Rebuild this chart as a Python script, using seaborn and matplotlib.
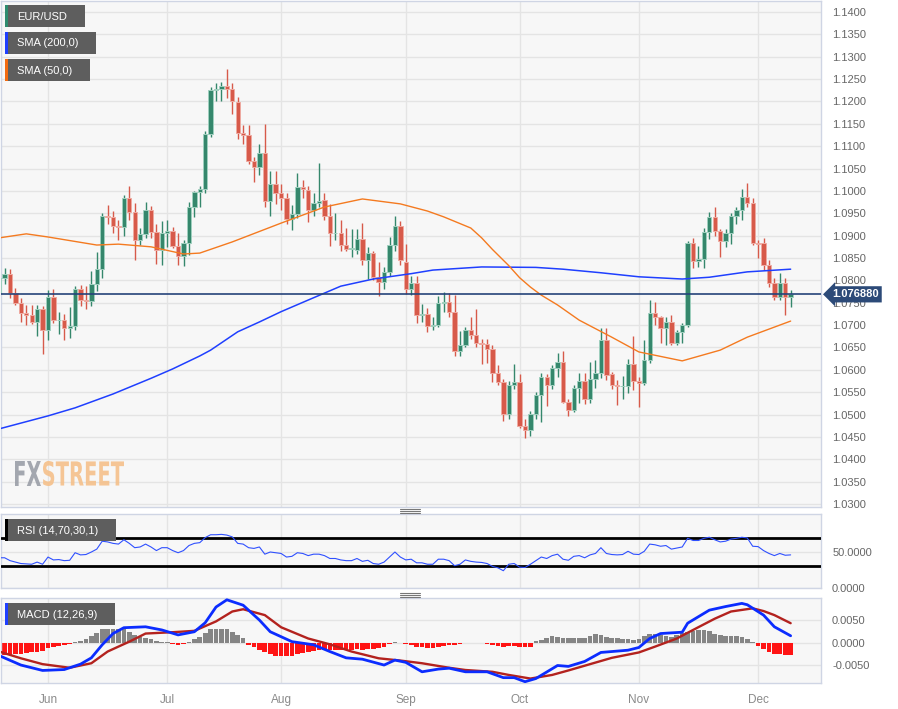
import numpy as np
import pandas as pd
import matplotlib
matplotlib.use("Agg")
import matplotlib.pyplot as plt
import seaborn as sns
from matplotlib.patches import Rectangle, PathPatch
from matplotlib.textpath import TextPath
from matplotlib.font_manager import FontProperties
from matplotlib.transforms import Affine2D, blended_transform_factory
from matplotlib.ticker import FormatStrFormatter

# ---------------- data ----------------
dates = pd.bdate_range("2023-05-19", "2023-12-11")

opens = [
    1.0772, 1.0806, 1.0815, 1.0771, 1.0750, 1.0726, 1.0722, 1.0707, 1.0736,
    1.0690, 1.0763, 1.0712, 1.0712, 1.0694, 1.0697, 1.0781, 1.0755, 1.0753, 1.0792,
    1.0826, 1.0943, 1.0941, 1.0922, 1.0920, 1.0985, 1.0953, 1.0891, 1.0903, 1.0957,
    1.0909, 1.0867, 1.0907, 1.0910, 1.0877, 1.0854, 1.0884, 1.0964, 1.0997, 1.1005,
    1.1127, 1.1225, 1.1227, 1.1234, 1.1227, 1.1199, 1.1130, 1.1126, 1.1066, 1.1053,
    1.1085, 1.0978, 1.1016, 1.0995, 1.0985, 1.0938, 1.0948, 1.1008, 1.1002, 1.0957,
    1.0973, 1.0979, 1.0945, 1.0905, 1.0906, 1.0878, 1.0871, 1.0869, 1.0893, 1.0845,
    1.0862, 1.0808, 1.0796, 1.0818, 1.0878, 1.0922, 1.0842, 1.0780, 1.0793, 1.0722,
    1.0725, 1.0697, 1.0700, 1.0749, 1.0751, 1.0729, 1.0641, 1.0656, 1.0689, 1.0678,
    1.0660, 1.0658, 1.0647, 1.0592, 1.0572, 1.0501, 1.0565, 1.0572, 1.0475, 1.0465,
    1.0501, 1.0544, 1.0585, 1.0566, 1.0603, 1.0617, 1.0528, 1.0510, 1.0559, 1.0576,
    1.0535, 1.0580, 1.0592, 1.0667, 1.0590, 1.0566, 1.0563, 1.0564, 1.0614, 1.0575,
    1.0571, 1.0621, 1.0728, 1.0717, 1.0693, 1.0707, 1.0661, 1.0685, 1.0700, 1.0883,
    1.0844, 1.0847, 1.0909, 1.0942, 1.0910, 1.0888, 1.0905, 1.0944, 1.0957, 1.0987,
    1.0972, 1.0884, 1.0883, 1.0834, 1.0795, 1.0762, 1.0795, 1.0763,
]
highs = [
    1.0830, 1.0828, 1.0825, 1.0782, 1.0760, 1.0746, 1.0745, 1.0746, 1.0742,
    1.0778, 1.0780, 1.0730, 1.0725, 1.0740, 1.0787, 1.0790, 1.0787, 1.0822, 1.0863,
    1.0950, 1.0968, 1.0955, 1.0935, 1.0990, 1.1012, 1.0973, 1.0917, 1.0975, 1.0966,
    1.0925, 1.0932, 1.0935, 1.0919, 1.0905, 1.0890, 1.0975, 1.1000, 1.1012, 1.1135,
    1.1233, 1.1242, 1.1244, 1.1272, 1.1242, 1.1210, 1.1147, 1.1147, 1.1075, 1.1106,
    1.1149, 1.1045, 1.1045, 1.1016, 1.0995, 1.0968, 1.1039, 1.1025, 1.1010, 1.0995,
    1.1062, 1.0995, 1.0970, 1.0950, 1.0935, 1.0917, 1.0914, 1.0914, 1.0929, 1.0875,
    1.0866, 1.0840, 1.0830, 1.0898, 1.0945, 1.0933, 1.0882, 1.0809, 1.0810, 1.0747,
    1.0738, 1.0718, 1.0766, 1.0773, 1.0771, 1.0768, 1.0687, 1.0696, 1.0718, 1.0736,
    1.0670, 1.0670, 1.0655, 1.0610, 1.0580, 1.0574, 1.0614, 1.0590, 1.0490, 1.0507,
    1.0550, 1.0592, 1.0590, 1.0610, 1.0637, 1.0641, 1.0535, 1.0565, 1.0592, 1.0592,
    1.0617, 1.0622, 1.0694, 1.0694, 1.0595, 1.0578, 1.0586, 1.0625, 1.0675, 1.0585,
    1.0667, 1.0755, 1.0751, 1.0721, 1.0719, 1.0722, 1.0690, 1.0705, 1.0888, 1.0895,
    1.0876, 1.0918, 1.0953, 1.0965, 1.0915, 1.0915, 1.0950, 1.0965, 1.1005, 1.1017,
    1.0985, 1.0890, 1.0895, 1.0845, 1.0805, 1.0817, 1.0805, 1.0778,
]
lows = [
    1.0760, 1.0792, 1.0760, 1.0745, 1.0708, 1.0700, 1.0703, 1.0675, 1.0635,
    1.0666, 1.0705, 1.0680, 1.0667, 1.0672, 1.0690, 1.0742, 1.0736, 1.0742, 1.0776,
    1.0805, 1.0925, 1.0905, 1.0890, 1.0900, 1.0935, 1.0845, 1.0880, 1.0895, 1.0895,
    1.0836, 1.0835, 1.0875, 1.0872, 1.0835, 1.0833, 1.0857, 1.0941, 1.0965, 1.0995,
    1.1120, 1.1200, 1.1200, 1.1207, 1.1172, 1.1117, 1.1106, 1.1060, 1.1021, 1.1036,
    1.0965, 1.0944, 1.0970, 1.0958, 1.0927, 1.0912, 1.0940, 1.0985, 1.0930, 1.0945,
    1.0965, 1.0935, 1.0877, 1.0891, 1.0865, 1.0865, 1.0853, 1.0860, 1.0835, 1.0802,
    1.0800, 1.0765, 1.0781, 1.0810, 1.0865, 1.0835, 1.0770, 1.0768, 1.0705, 1.0707,
    1.0685, 1.0688, 1.0695, 1.0729, 1.0718, 1.0632, 1.0632, 1.0650, 1.0670, 1.0651,
    1.0614, 1.0615, 1.0572, 1.0565, 1.0486, 1.0490, 1.0557, 1.0470, 1.0448, 1.0451,
    1.0490, 1.0483, 1.0520, 1.0557, 1.0585, 1.0525, 1.0496, 1.0505, 1.0525, 1.0524,
    1.0526, 1.0560, 1.0582, 1.0578, 1.0557, 1.0521, 1.0535, 1.0549, 1.0556, 1.0516,
    1.0566, 1.0615, 1.0700, 1.0661, 1.0656, 1.0656, 1.0655, 1.0661, 1.0695, 1.0828,
    1.0830, 1.0828, 1.0893, 1.0900, 1.0852, 1.0875, 1.0882, 1.0925, 1.0935, 1.0965,
    1.0880, 1.0850, 1.0823, 1.0785, 1.0757, 1.0755, 1.0723, 1.0741,
]
closes = [
    1.0806, 1.0815, 1.0771, 1.0750, 1.0726, 1.0722, 1.0707, 1.0736, 1.0690,
    1.0763, 1.0712, 1.0712, 1.0694, 1.0697, 1.0781, 1.0755, 1.0753, 1.0792, 1.0826,
    1.0943, 1.0941, 1.0922, 1.0920, 1.0985, 1.0953, 1.0891, 1.0903, 1.0957, 1.0909,
    1.0867, 1.0907, 1.0910, 1.0877, 1.0854, 1.0884, 1.0964, 1.0997, 1.1005, 1.1127,
    1.1225, 1.1227, 1.1234, 1.1227, 1.1201, 1.1130, 1.1126, 1.1066, 1.1053, 1.1085,
    1.0978, 1.1016, 1.0995, 1.0985, 1.0938, 1.0948, 1.1008, 1.1005, 1.0957, 1.0973,
    1.0978, 1.0945, 1.0905, 1.0906, 1.0878, 1.0871, 1.0871, 1.0893, 1.0845, 1.0862,
    1.0808, 1.0796, 1.0818, 1.0878, 1.0922, 1.0845, 1.0780, 1.0793, 1.0722, 1.0725,
    1.0697, 1.0700, 1.0749, 1.0751, 1.0729, 1.0642, 1.0656, 1.0689, 1.0678, 1.0660,
    1.0658, 1.0647, 1.0592, 1.0572, 1.0501, 1.0565, 1.0572, 1.0475, 1.0465, 1.0501,
    1.0544, 1.0585, 1.0566, 1.0603, 1.0617, 1.0528, 1.0510, 1.0559, 1.0576, 1.0535,
    1.0580, 1.0592, 1.0667, 1.0588, 1.0566, 1.0563, 1.0564, 1.0614, 1.0575, 1.0571,
    1.0621, 1.0728, 1.0717, 1.0693, 1.0707, 1.0661, 1.0685, 1.0700, 1.0883, 1.0844,
    1.0847, 1.0909, 1.0942, 1.0910, 1.0888, 1.0905, 1.0944, 1.0957, 1.0987, 1.0972,
    1.0884, 1.0881, 1.0834, 1.0795, 1.0762, 1.0795, 1.0763, 1.0769,
]
last_price = 1.076880

sma200_dates = ["2023-05-19", "2023-06-01", "2023-06-08", "2023-06-19", "2023-06-28",
                "2023-07-04", "2023-07-11", "2023-07-13", "2023-07-20", "2023-07-26",
                "2023-08-01", "2023-08-08", "2023-08-16", "2023-08-24", "2023-09-04",
                "2023-09-08", "2023-09-21", "2023-10-05", "2023-10-12", "2023-10-23",
                "2023-11-01", "2023-11-13", "2023-11-20", "2023-11-29", "2023-12-11"]
sma200_vals = [1.0468, 1.0497, 1.0515, 1.0546, 1.0581,
               1.0602, 1.0631, 1.0644, 1.0685, 1.0707,
               1.0730, 1.0756, 1.0787, 1.0803, 1.0815,
               1.0823, 1.0830, 1.0829, 1.0825, 1.0817,
               1.0808, 1.0803, 1.0807, 1.0819, 1.0825]

sma50_dates = ["2023-05-19", "2023-05-26", "2023-06-01", "2023-06-14", "2023-06-20",
               "2023-06-28", "2023-07-06", "2023-07-11", "2023-07-19", "2023-08-01",
               "2023-08-11", "2023-08-22", "2023-08-31", "2023-09-07", "2023-09-12",
               "2023-09-19", "2023-09-21", "2023-09-25", "2023-09-28", "2023-10-02",
               "2023-10-04", "2023-10-06", "2023-10-11", "2023-10-17", "2023-10-25",
               "2023-11-01", "2023-11-13", "2023-11-22", "2023-11-29", "2023-12-11"]
sma50_vals = [1.0895, 1.0904, 1.0897, 1.0879, 1.0881,
              1.0875, 1.0859, 1.0861, 1.0886, 1.0928,
              1.0964, 1.0982, 1.0971, 1.0955, 1.0942,
              1.0917, 1.0895, 1.0869, 1.0833, 1.0806,
              1.0785, 1.0767, 1.0745, 1.0711, 1.0673,
              1.0640, 1.0620, 1.0644, 1.0673, 1.0709]

rsi = [
    42, 42, 38, 36, 34, 33.5, 33, 36, 33,
    43, 39, 39.5, 38, 38.5, 49, 46, 46.5, 50, 54,
    65, 64, 62, 61, 67, 62, 56, 57, 61, 57,
    52, 56, 56, 52, 49, 52, 59, 62, 63, 70,
    74, 74, 74.5, 73.5, 71, 62, 61, 56, 55, 57,
    47, 50, 49, 48, 43, 44, 49, 48, 45, 47,
    47, 45, 41, 41, 39, 38, 38, 41, 37, 38.5,
    34, 33, 36, 43, 50, 43, 39, 40, 35, 35,
    33, 33, 40, 40, 38, 31, 33, 39, 37, 36,
    35.5, 34, 30, 28, 24, 33, 34, 29, 28.5, 33,
    38, 43, 41, 45, 47, 40, 38.5, 44, 45, 42,
    46, 48, 56, 48, 46.5, 46, 46.5, 51, 47, 46.5,
    51, 61, 60, 58, 59, 54, 55.5, 57, 69, 66,
    66, 69, 70.5, 67, 64, 65, 68, 69, 70.5, 69.5,
    58, 57.5, 52, 48, 45, 48, 45.5, 46,
]
rsi_upper, rsi_lower = 70, 30

macd_hist = [
    -0.0027, -0.0027, -0.0026, -0.0025, -0.0024, -0.0022, -0.0021, -0.0019, -0.0017,
    -0.0012, -0.0010, -0.0007, -0.0005, -0.0003, 0.0003, 0.0005, 0.0008, 0.0015, 0.0022,
    0.0030, 0.0031, 0.0031, 0.0030, 0.0031, 0.0025, 0.0018, 0.0014, 0.0012, 0.0008,
    0.0005, 0.0003, 0.0002, -0.0002, -0.0004, -0.0003, 0.0003, 0.0008, 0.0014, 0.0022,
    0.0030, 0.0031, 0.0031, 0.0030, 0.0025, 0.0018, 0.0010, -0.0005, -0.0010, -0.0016,
    -0.0020, -0.0025, -0.0028, -0.0030, -0.0030, -0.0028, -0.0025, -0.0022, -0.0019, -0.0018,
    -0.0016, -0.0015, -0.0015, -0.0016, -0.0015, -0.0016, -0.0015, -0.0014, -0.0015, -0.0013,
    -0.0014, -0.0012, -0.0008, -0.0003, 0.0002, 0.0001, -0.0002, -0.0004, -0.0008, -0.0010,
    -0.0012, -0.0012, -0.0008, -0.0006, -0.0005, -0.0004, -0.0002, -0.0001, -0.0001, -0.0001,
    -0.0001, -0.0002, -0.0004, -0.0007, -0.0009, -0.0007, -0.0007, -0.0009, -0.0010, -0.0008,
    0.0004, 0.0007, 0.0012, 0.0016, 0.0014, 0.0010, 0.0010, 0.0010, 0.0010, 0.0012,
    0.0015, 0.0019, 0.0017, 0.0013, 0.0010, 0.0010, 0.0009, 0.0008, 0.0006, 0.0008,
    0.0016, 0.0019, 0.0019, 0.0017, 0.0016, 0.0014, 0.0017, 0.0023, 0.0025, 0.0026,
    0.0028, 0.0029, 0.0026, 0.0020, 0.0018, 0.0016, 0.0016, 0.0015, 0.0014, 0.0008,
    0.0002, -0.0007, -0.0013, -0.0019, -0.0024, -0.0025, -0.0026, -0.0026,
]

macd_dates = ["2023-05-19", "2023-05-25", "2023-05-31", "2023-06-06", "2023-06-09",
              "2023-06-13", "2023-06-15", "2023-06-19", "2023-06-21", "2023-06-27",
              "2023-06-30", "2023-07-05", "2023-07-10", "2023-07-12", "2023-07-14",
              "2023-07-18", "2023-07-21", "2023-07-26", "2023-07-28", "2023-08-03",
              "2023-08-09", "2023-08-14", "2023-08-17", "2023-08-22", "2023-08-28",
              "2023-08-30", "2023-09-01", "2023-09-06", "2023-09-11", "2023-09-13",
              "2023-09-18", "2023-09-22", "2023-09-27", "2023-09-29", "2023-10-03",
              "2023-10-05", "2023-10-11", "2023-10-13", "2023-10-18", "2023-10-23",
              "2023-10-25", "2023-10-30", "2023-11-01", "2023-11-03", "2023-11-07",
              "2023-11-13", "2023-11-14", "2023-11-20", "2023-11-23", "2023-11-28",
              "2023-11-29", "2023-12-04", "2023-12-06", "2023-12-11"]
macd_vals = [-0.0028, -0.0049, -0.0061, -0.0059, -0.0047,
             -0.0033, -0.0004, 0.0021, 0.0034, 0.0036,
             0.0029, 0.0018, 0.0025, 0.0045, 0.0080,
             0.0096, 0.0084, 0.0051, 0.0025, 0.0003,
             -0.0004, -0.0019, -0.0033, -0.0036, -0.0049,
             -0.0038, -0.0043, -0.0064, -0.0058, -0.0056,
             -0.0064, -0.0064, -0.0077, -0.0077, -0.0086,
             -0.0079, -0.0050, -0.0052, -0.0041, -0.0021,
             -0.0019, -0.0016, -0.0010, 0.0010, 0.0021,
             0.0024, 0.0044, 0.0073, 0.0081, 0.0088,
             0.0085, 0.0062, 0.0036, 0.0016]

signal_dates = ["2023-05-19", "2023-05-25", "2023-05-31", "2023-06-07", "2023-06-13",
                "2023-06-16", "2023-06-22", "2023-06-27", "2023-07-04", "2023-07-10",
                "2023-07-14", "2023-07-19", "2023-07-21", "2023-07-27", "2023-08-01",
                "2023-08-08", "2023-08-14", "2023-08-18", "2023-08-25", "2023-08-31",
                "2023-09-06", "2023-09-13", "2023-09-18", "2023-09-25", "2023-09-28",
                "2023-10-04", "2023-10-10", "2023-10-13", "2023-10-19", "2023-10-25",
                "2023-11-01", "2023-11-06", "2023-11-10", "2023-11-15", "2023-11-21",
                "2023-11-24", "2023-11-30", "2023-12-04", "2023-12-06", "2023-12-11"]
signal_vals = [-0.0019, -0.0034, -0.0047, -0.0055, -0.0045,
               -0.0019, 0.0003, 0.0021, 0.0024, 0.0027,
               0.0048, 0.0070, 0.0075, 0.0062, 0.0035,
               0.0010, -0.0003, -0.0019, -0.0034, -0.0039,
               -0.0045, -0.0055, -0.0060, -0.0064, -0.0071,
               -0.0079, -0.0071, -0.0061, -0.0047, -0.0033,
               -0.0021, -0.0008, 0.0010, 0.0029, 0.0054,
               0.0070, 0.0077, 0.0071, 0.0062, 0.0044]

legend_labels = ["EUR/USD", "SMA (200,0)", "SMA (50,0)"]
rsi_label = "RSI (14,70,30,1)"
macd_label = "MACD (12,26,9)"

# ---------------- style ----------------
sns.set_theme(style="white")
plt.rcParams["font.family"] = ["Liberation Sans", "DejaVu Sans"]

W, H = 898, 709
BG = "#f7f7f7"
GRID = "#e4e4e4"
SPINE = "#cfd5e4"
TXT = "#666666"
UP, DN = "#35876c", "#d75a4a"
UPE, DNE = "#9fcfbe", "#eeaaa1"
BLUE = "#1f3fff"
ORANGE = "#f47a20"

fig = plt.figure(figsize=(W / 100, H / 100), dpi=100)
fig.patch.set_facecolor("white")


def rect(top, bottom, left=0.5, right=821.0):
    return [left / W, 1 - bottom / H, (right - left) / W, (bottom - top) / H]


ax = fig.add_axes(rect(1, 507))
ax_rsi = fig.add_axes(rect(514, 588))
ax_macd = fig.add_axes(rect(598, 683))

n = len(dates)
xi = np.arange(n)
date_index = {d.strftime("%Y-%m-%d"): i for i, d in enumerate(dates)}
month_idx = [int(np.where(dates.month == m)[0][0]) for m in range(6, 13)]
month_lbl = [dates[i].strftime("%b") for i in month_idx]

xl = (0.24, 151.6)
for a in (ax, ax_rsi, ax_macd):
    a.set_facecolor(BG)
    a.set_xlim(*xl)
    for s in a.spines.values():
        s.set_color(SPINE)
        s.set_linewidth(1)
    a.yaxis.tick_right()
    a.tick_params(axis="both", length=0, labelsize=8, colors=TXT, pad=8)
    a.set_xticks(month_idx)
    a.grid(True, color=GRID, linewidth=1)
    a.set_axisbelow(True)
ax.tick_params(labelbottom=False)
ax_rsi.tick_params(labelbottom=False)
ax_macd.set_xticklabels(month_lbl)
ax_macd.tick_params(axis="x", colors="#8a8a8a", labelsize=8.5, pad=8)

# ---------------- main (candles) ----------------
O = np.array(opens); Hh = np.array(highs); L = np.array(lows); C = np.array(closes)
up = C >= O
cols = np.where(up, UP, DN)
ecols = np.where(up, UPE, DNE)
ax.vlines(xi, L, Hh, colors=cols, linewidth=1, zorder=2)
mind = 0.00009
diff = np.abs(C - O)
body_h = np.maximum(diff, mind)
body_b = np.where(diff < mind, (O + C) / 2 - mind / 2, np.minimum(O, C))
ax.bar(xi, body_h, bottom=body_b, width=0.8, color=cols, edgecolor=ecols,
       linewidth=0.7, zorder=3)

sns.lineplot(x=[date_index[d] for d in sma200_dates], y=sma200_vals, ax=ax,
             color=BLUE, linewidth=1.1, zorder=4)
sns.lineplot(x=[date_index[d] for d in sma50_dates], y=sma50_vals, ax=ax,
             color=ORANGE, linewidth=1.0, zorder=4)

ax.axhline(last_price, color="#25437a", linewidth=1.2, zorder=5)
ax.set_ylim(1.02933, 1.14246)
ax.set_yticks(np.round(np.arange(1.030, 1.14001, 0.005), 4))
ax.yaxis.set_major_formatter(FormatStrFormatter("%.4f"))
ax.set_xlabel(""); ax.set_ylabel("")

trans = blended_transform_factory(ax.transAxes, ax.transData)
ax.annotate(f"{last_price:.6f}", xy=(1.0, last_price), xycoords=trans,
            xytext=(11, 0), textcoords="offset pixels", ha="left", va="center",
            color="white", fontsize=8, fontweight="bold",
            bbox=dict(boxstyle="larrow,pad=0.28", fc="#2c4a78", ec="none"),
            annotation_clip=False, zorder=20)

# ---------------- RSI ----------------
sns.lineplot(x=xi, y=rsi, ax=ax_rsi, color="#2f50ff", linewidth=0.8, zorder=4)
ax_rsi.axhline(rsi_upper, color="black", linewidth=2, zorder=3)
ax_rsi.axhline(rsi_lower, color="black", linewidth=2, zorder=3)
ax_rsi.set_ylim(0, 102.8)
ax_rsi.set_yticks([0, 50])
ax_rsi.yaxis.set_major_formatter(FormatStrFormatter("%.4f"))
ax_rsi.set_xlabel(""); ax_rsi.set_ylabel("")

# ---------------- MACD ----------------
hist = np.array(macd_hist)
ax_macd.bar(xi, hist, width=0.86, color=np.where(hist >= 0, "#858585", "#ff1414"),
            linewidth=0, zorder=2)
sns.lineplot(x=[date_index[d] for d in signal_dates], y=signal_vals, ax=ax_macd,
             color="#b3221e", linewidth=1.7, zorder=4)
sns.lineplot(x=[date_index[d] for d in macd_dates], y=macd_vals, ax=ax_macd,
             color="#0b2cff", linewidth=2.0, zorder=5)
ax_macd.set_ylim(-0.00889, 0.0100)
ax_macd.set_yticks([-0.005, 0.0, 0.005])
ax_macd.yaxis.set_major_formatter(FormatStrFormatter("%.4f"))
ax_macd.set_xlabel(""); ax_macd.set_ylabel("")

# ---------------- overlay (labels, grips, watermark) ----------------
ov = fig.add_axes([0, 0, 1, 1], zorder=10)
ov.set_xlim(0, W); ov.set_ylim(H, 0)
ov.axis("off")
ov.patch.set_alpha(0)


def tag(x0, y0, w, h, color, text):
    ov.add_patch(Rectangle((x0, y0), w, h, fc="#5e5e5e", ec="none"))
    ov.add_patch(Rectangle((x0, y0), 2.5, h, fc=color, ec="none"))
    ov.text(x0 + 12, y0 + h / 2 + 0.5, text, color="white", fontsize=8,
            va="center", ha="left")


tag(5, 5, 80, 22, "#2e8b6f", legend_labels[0])
tag(5, 32, 91, 22, BLUE, legend_labels[1])
tag(5, 59, 85, 22, "#f26a10", legend_labels[2])
tag(5, 519, 111, 22, "#000000", rsi_label)
tag(5, 603, 110, 22, BLUE, macd_label)

for yy in (508.5, 510.5, 512.5, 592.5, 594.5, 596.5):
    ov.plot([400, 420], [yy, yy], color="#777777", linewidth=0.8)

fp = FontProperties(family="DejaVu Sans", weight="bold")


def word(s, x0, x1, ytop, ybot, color):
    tp = TextPath((0, 0), s, size=10, prop=fp)
    ext = tp.get_extents()
    tr = (Affine2D().translate(-ext.x0, -ext.y0)
          .scale((x1 - x0) / ext.width, -(ybot - ytop) / ext.height)
          .translate(x0, ybot))
    ov.add_patch(PathPatch(tr.transform_path(tp), fc=color, ec="none", alpha=0.9))


word("FX", 15, 41, 461, 486, "#9a9ea7")
word("STREET", 43, 124, 461, 486, "#f5c08a")

fig.savefig("out.png", dpi=100, facecolor="white")
